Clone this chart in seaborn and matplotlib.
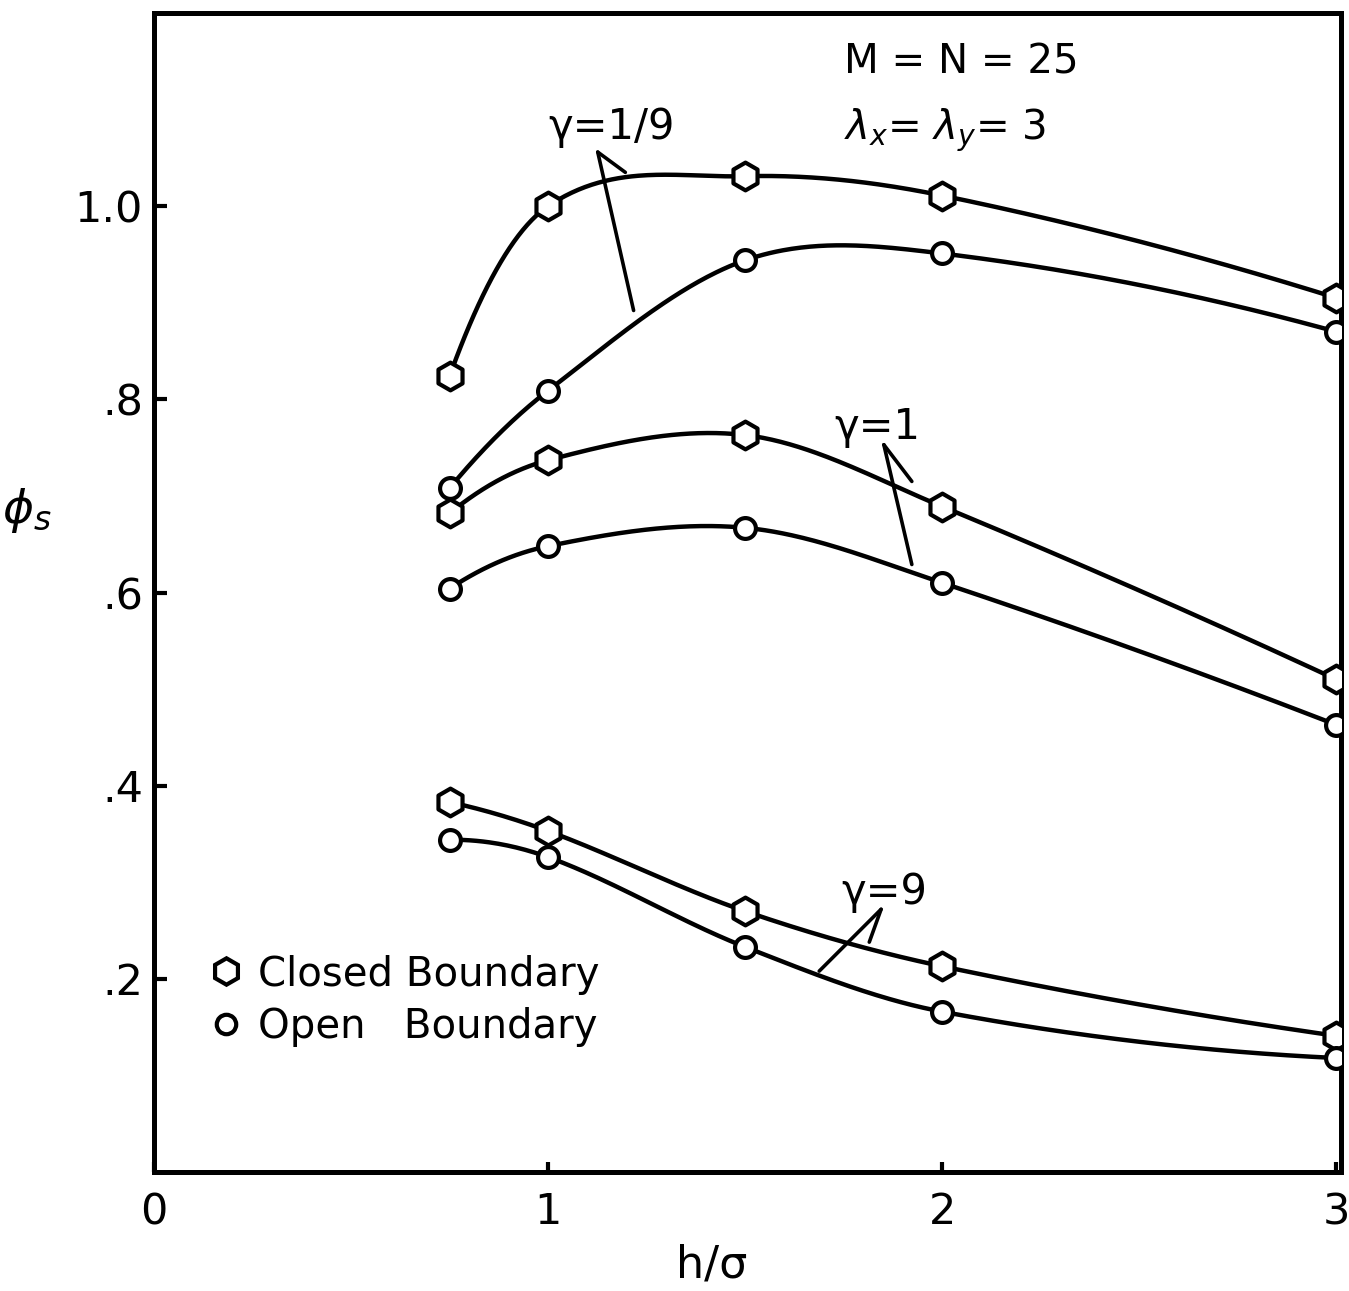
import numpy as np
import pandas as pd
import matplotlib
matplotlib.use("Agg")
import matplotlib.pyplot as plt
from matplotlib.lines import Line2D
import seaborn as sns

# h/sigma sample positions
h_sigma = [0.75, 1.0, 1.5, 2.0, 3.0]

# phi_s values, closed and open boundary, for each gamma
closed_g19 = [0.824, 1.000, 1.031, 1.011, 0.905]
open_g19 = [0.708, 0.809, 0.944, 0.951, 0.870]
closed_g1 = [0.682, 0.737, 0.763, 0.689, 0.510]
open_g1 = [0.604, 0.648, 0.667, 0.610, 0.463]
closed_g9 = [0.383, 0.353, 0.270, 0.213, 0.141]
open_g9 = [0.344, 0.326, 0.233, 0.166, 0.118]

x_ticks = [0, 1, 2, 3]
x_tick_labels = ["0", "1", "2", "3"]
y_ticks = [0.2, 0.4, 0.6, 0.8, 1.0]
y_tick_labels = [".2", ".4", ".6", ".8", "1.0"]


def smooth_curve(x, y, xs):
    """Catmull-Rom style Hermite curve through (x, y)."""
    x = np.asarray(x, float)
    y = np.asarray(y, float)
    n = len(x)
    hh = np.diff(x)
    s = np.diff(y) / hh
    m = np.zeros(n)
    for i in range(1, n - 1):
        m[i] = (y[i + 1] - y[i - 1]) / (x[i + 1] - x[i - 1])
    m[0] = 2 * s[0] - m[1]
    m[-1] = 2 * s[-1] - m[-2]
    idx = np.clip(np.searchsorted(x, xs) - 1, 0, n - 2)
    t = (xs - x[idx]) / hh[idx]
    h00 = 2 * t ** 3 - 3 * t ** 2 + 1
    h10 = t ** 3 - 2 * t ** 2 + t
    h01 = -2 * t ** 3 + 3 * t ** 2
    h11 = t ** 3 - t ** 2
    return (h00 * y[idx] + h10 * hh[idx] * m[idx]
            + h01 * y[idx + 1] + h11 * hh[idx] * m[idx + 1])


sns.set_theme(style="ticks")
plt.rcParams["font.family"] = ["DejaVu Sans"]
plt.rcParams["mathtext.fontset"] = "dejavusans"
plt.rcParams["text.color"] = "black"
plt.rcParams["axes.labelcolor"] = "black"
plt.rcParams["xtick.color"] = "black"
plt.rcParams["ytick.color"] = "black"

fig = plt.figure(figsize=(13.49, 12.91), dpi=100)
ax = fig.add_axes([154 / 1349, 119 / 1291, (1341 - 154) / 1349, (1278 - 119) / 1291])

series = [
    ("closed", closed_g19), ("open", open_g19),
    ("closed", closed_g1), ("open", open_g1),
    ("closed", closed_g9), ("open", open_g9),
]

xs = np.linspace(h_sigma[0], h_sigma[-1], 400)
lw = 3.2
for kind, vals in series:
    curve = pd.DataFrame({"h": xs, "phi": smooth_curve(h_sigma, vals, xs)})
    sns.lineplot(data=curve, x="h", y="phi", ax=ax, color="black",
                 linewidth=lw, sort=False, zorder=2)
    pts = pd.DataFrame({"h": h_sigma, "phi": vals})
    if kind == "closed":
        sns.scatterplot(data=pts, x="h", y="phi", ax=ax, marker="h", s=20 ** 2,
                        facecolor="white", edgecolor="black", linewidth=3.0,
                        zorder=3)
    else:
        sns.scatterplot(data=pts, x="h", y="phi", ax=ax, marker="o", s=15 ** 2,
                        facecolor="white", edgecolor="black", linewidth=3.0,
                        zorder=3)

ax.set_xlim(0, 3.012)
ax.set_ylim(0, 1.2)
ax.set_xticks(x_ticks)
ax.set_xticklabels(x_tick_labels)
ax.set_yticks(y_ticks)
ax.set_yticklabels(y_tick_labels)

for side in ["left", "right", "top", "bottom"]:
    ax.spines[side].set_visible(True)
    ax.spines[side].set_linewidth(3.6)
    ax.spines[side].set_color("black")

ax.tick_params(axis="both", direction="in", width=3.0, colors="black",
               labelsize=31)
ax.tick_params(axis="y", length=9, pad=8)
ax.tick_params(axis="x", length=7, pad=14)

ax.set_xlabel("h/σ", fontsize=32)
ax.xaxis.set_label_coords(0.47, -0.062)
ax.set_ylabel(r"$\phi_s$", fontsize=34, rotation=0)
ax.yaxis.set_label_coords(-0.107, 0.55)

# gamma labels with pointer lines
txt_kw = dict(fontsize=30, color="black")
line_kw = dict(color="black", linewidth=2.6, solid_capstyle="round")

ax.text(1.16, 1.070, "γ=1/9", ha="center", va="baseline", **txt_kw)
ax.plot([1.126, 1.196], [1.056, 1.035], **line_kw)
ax.plot([1.126, 1.217], [1.056, 0.892], **line_kw)

ax.text(1.835, 0.759, "γ=1", ha="center", va="baseline", **txt_kw)
ax.plot([1.852, 1.923], [0.753, 0.715], **line_kw)
ax.plot([1.852, 1.923], [0.753, 0.629], **line_kw)

ax.text(1.852, 0.2775, "γ=9", ha="center", va="baseline", **txt_kw)
ax.plot([1.845, 1.815], [0.272, 0.238], **line_kw)
ax.plot([1.845, 1.688], [0.272, 0.208], **line_kw)

ax.text(1.751, 1.137, "M = N = 25", ha="left", va="baseline", fontsize=29)
ax.text(1.751, 1.068, r"$\lambda_x$= $\lambda_y$= 3", ha="left",
        va="baseline", fontsize=29)

handles = [
    Line2D([], [], linestyle="none", marker="h", markersize=19,
           markerfacecolor="white", markeredgecolor="black", markeredgewidth=3),
    Line2D([], [], linestyle="none", marker="o", markersize=14,
           markerfacecolor="white", markeredgecolor="black", markeredgewidth=3),
]
ax.legend(handles, ["Closed Boundary", "Open   Boundary"], loc="upper left",
          bbox_to_anchor=(0.03, 0.205), frameon=False, fontsize=29,
          handlelength=0.8, handletextpad=0.4, labelspacing=0.3,
          borderpad=0.0, labelcolor="black")

fig.savefig("out.png", dpi=100, facecolor="white")
